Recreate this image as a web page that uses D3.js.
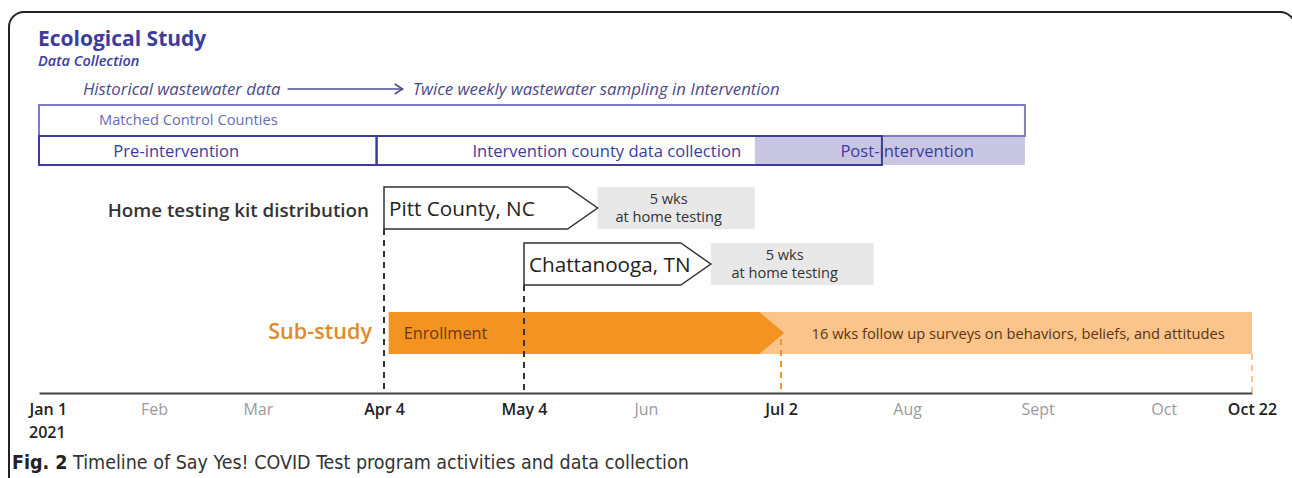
<!DOCTYPE html>
<html lang="en">
  <head>
    <meta charset="UTF-8" />
    <title>Timeline</title>
    <script src="https://d3js.org/d3.v7.min.js"></script>
    <style>
      body { margin: 0; background: #fff; }
      svg text { font-family: "Open Sans", "Noto Sans", sans-serif; }
      .caption { font-family: "Liberation Sans Narrow", "DejaVu Sans Condensed", "Open Sans", sans-serif; }
    </style>
  </head>
  <body>
    <script>
      // axis ticks
      var tickDates = ["2021-01-01", "2021-02-01", "2021-03-01", "2021-04-04", "2021-05-04", "2021-06-01",
        "2021-07-02", "2021-08-01", "2021-09-01", "2021-10-01", "2021-10-22"];
      var tickLabels = ["Jan 1", "Feb", "Mar", "Apr 4", "May 4", "Jun", "Jul 2", "Aug", "Sept", "Oct", "Oct 22"];
      var keyLabels = ["Jan 1", "Apr 4", "May 4", "Jul 2", "Oct 22"];

      // ecological study rows
      var controlBox = { label: "Matched Control Counties", start: "2021-01-01", end: "2021-08-29" };
      var phaseLabels = ["Pre-intervention", "Intervention county data collection"];
      var phaseStart = ["2021-01-01", "2021-04-02"];
      var phaseEnd = ["2021-04-02", "2021-07-26"];
      var phaseLabelAt = ["2021-02-07", "2021-05-23"];
      var postPhase = { label: "Post-intervention", start: "2021-06-26", end: "2021-08-29", labelAt: "2021-08-01" };
      var wastewater = { before: "Historical wastewater data", after: "Twice weekly wastewater sampling in Intervention",
        from: "2021-03-09", to: "2021-04-08" };

      // home testing kits
      var kitSites = ["Pitt County, NC", "Chattanooga, TN"];
      var kitStart = ["2021-04-04", "2021-05-04"];
      var kitEnd = ["2021-05-14", "2021-06-09"];
      var kitTestEnd = ["2021-06-26", "2021-07-24"];
      var kitNote = ["5 wks", "at home testing"];

      // sub-study
      var enrollment = { label: "Enrollment", start: "2021-04-05", end: "2021-06-27" };
      var followUp = { label: "16 wks follow up surveys on behaviors, beliefs, and attitudes", end: "2021-10-22" };

      // dashed markers
      var markerDates = ["2021-04-04", "2021-05-04", "2021-07-02", "2021-10-22"];

      var parse = d3.timeParse("%Y-%m-%d");
      var W = 1292, H = 478;

      var svg = d3.select("body").append("svg").attr("width", W).attr("height", H);

      // hand drawn timeline: piecewise time scale through the key dates
      var x = d3.scaleTime()
        .domain(["2021-01-01", "2021-04-04", "2021-05-04", "2021-07-02", "2021-10-22"].map(parse))
        .range([39, 384, 524, 781, 1252]);
      var X = function (s) { return x(parse(s)); };

      var purple = "#3c3ca0";

      // frame
      svg.append("rect")
        .attr("x", 9).attr("y", 12).attr("width", 1286).attr("height", 520)
        .attr("rx", 15).attr("fill", "none").attr("stroke", "#222").attr("stroke-width", 2);

      // titles
      svg.append("text").attr("x", 38).attr("y", 46)
        .attr("fill", purple).attr("font-size", 21).attr("font-weight", 700)
        .text("Ecological Study");
      svg.append("text").attr("x", 38).attr("y", 66)
        .attr("fill", purple).attr("font-size", 14.5).attr("font-weight", 600).attr("font-style", "italic")
        .text("Data Collection");

      // wastewater arrow
      var ww = svg.append("g").attr("fill", "#4b4b8c").attr("font-size", 16.8).attr("font-style", "italic");
      ww.append("text").attr("x", X(wastewater.from) - 7).attr("y", 95).attr("text-anchor", "end").text(wastewater.before);
      ww.append("text").attr("x", X(wastewater.to) + 10).attr("y", 95).text(wastewater.after);
      ww.append("line").attr("x1", X(wastewater.from)).attr("x2", X(wastewater.to))
        .attr("y1", 89).attr("y2", 89).attr("stroke", "#4b4b8c").attr("stroke-width", 1.5);
      ww.append("path")
        .attr("d", d3.line()([[X(wastewater.to) - 8, 84], [X(wastewater.to), 89], [X(wastewater.to) - 8, 94]]))
        .attr("fill", "none").attr("stroke", "#4b4b8c").attr("stroke-width", 1.5);

      // matched control box
      svg.append("rect")
        .attr("x", X(controlBox.start)).attr("y", 105)
        .attr("width", X(controlBox.end) - X(controlBox.start)).attr("height", 31)
        .attr("fill", "#fff").attr("stroke", "#7b7bc6").attr("stroke-width", 2);
      svg.append("text").attr("x", X(controlBox.start) + 60).attr("y", 125)
        .attr("fill", "#6a6ab9").attr("font-size", 14.7).text(controlBox.label);

      // post intervention fill
      svg.append("rect")
        .attr("x", X(postPhase.start)).attr("y", 137)
        .attr("width", X(postPhase.end) - X(postPhase.start)).attr("height", 28)
        .attr("fill", "#c8c6e3");

      // phases
      svg.selectAll("rect.phase").data(phaseLabels).enter().append("rect")
        .attr("class", "phase")
        .attr("x", function (d, i) { return X(phaseStart[i]); })
        .attr("y", 136)
        .attr("width", function (d, i) { return X(phaseEnd[i]) - X(phaseStart[i]); })
        .attr("height", 29)
        .attr("fill", "none").attr("stroke", purple).attr("stroke-width", 2);
      svg.selectAll("text.phase").data(phaseLabels.concat([postPhase.label])).enter().append("text")
        .attr("class", "phase")
        .attr("x", function (d, i) { return X(i < 2 ? phaseLabelAt[i] : postPhase.labelAt); })
        .attr("y", 157).attr("text-anchor", "middle")
        .attr("fill", purple).attr("font-size", 16.6)
        .text(function (d) { return d; });

      // home testing kit distribution
      var rowY = [187, 243], rowH = 42, tip = 30;
      svg.append("text").attr("x", 369).attr("y", 217).attr("text-anchor", "end")
        .attr("fill", "#333").attr("font-size", 18.8).attr("font-weight", 600)
        .text("Home testing kit distribution");

      var kits = svg.selectAll("g.kit").data(kitSites).enter().append("g").attr("class", "kit");
      kits.append("rect")
        .attr("x", function (d, i) { return X(kitEnd[i]) + tip; })
        .attr("y", function (d, i) { return rowY[i]; })
        .attr("width", function (d, i) { return X(kitTestEnd[i]) - X(kitEnd[i]) - tip; })
        .attr("height", rowH).attr("fill", "#e8e8e8");
      kits.append("path")
        .attr("d", function (d, i) {
          var x0 = X(kitStart[i]), x1 = X(kitEnd[i]), y0 = rowY[i], y1 = rowY[i] + rowH;
          return d3.line()([[x0, y0], [x1, y0], [x1 + tip, (y0 + y1) / 2], [x1, y1], [x0, y1]]) + "Z";
        })
        .attr("fill", "#fff").attr("stroke", "#333").attr("stroke-width", 1.5);
      kits.append("text")
        .attr("x", function (d, i) { return X(kitStart[i]) + 5; })
        .attr("y", function (d, i) { return rowY[i] + 29; })
        .attr("fill", "#222").attr("font-size", 20.7)
        .text(function (d) { return d; });
      kitNote.forEach(function (note, k) {
        kits.append("text")
          .attr("x", function (d, i) { return (X(kitEnd[i]) + tip - 15 + X(kitTestEnd[i])) / 2; })
          .attr("y", function (d, i) { return rowY[i] + 17 + k * 18; })
          .attr("text-anchor", "middle").attr("fill", "#333").attr("font-size", 14.6)
          .text(note);
      });

      // sub-study
      var subY = 312, subH = 42, subTip = 25;
      svg.append("text").attr("x", 372).attr("y", 339).attr("text-anchor", "end")
        .attr("fill", "#e08a2e").attr("font-size", 21.6).attr("font-weight", 600)
        .text("Sub-study");
      svg.append("rect")
        .attr("x", X(enrollment.end)).attr("y", subY)
        .attr("width", X(followUp.end) - X(enrollment.end)).attr("height", subH)
        .attr("fill", "#fac48b");
      svg.append("path")
        .attr("d", function () {
          var x0 = X(enrollment.start), x1 = X(enrollment.end);
          return d3.line()([[x0, subY], [x1, subY], [x1 + subTip, subY + subH / 2], [x1, subY + subH], [x0, subY + subH]]) + "Z";
        })
        .attr("fill", "#f39322");
      svg.append("text").attr("x", X(enrollment.start) + 15).attr("y", 339)
        .attr("fill", "#6b3812").attr("font-size", 16.3).text(enrollment.label);
      svg.append("text").attr("x", (X(enrollment.end) + subTip + X(followUp.end)) / 2).attr("y", 339)
        .attr("text-anchor", "middle").attr("fill", "#5e3310").attr("font-size", 14.7).text(followUp.label);

      // dashed markers
      var markerTop = [rowY[0] + rowH, rowY[1] + rowH, subY + subH / 2 + 6, subY + subH];
      var markerColor = ["#333", "#333", "#f39322", "#fac48b"];
      svg.selectAll("line.marker").data(markerDates).enter().append("line")
        .attr("class", "marker")
        .attr("x1", function (d) { return X(d); }).attr("x2", function (d) { return X(d); })
        .attr("y1", function (d, i) { return markerTop[i]; }).attr("y2", 392)
        .attr("stroke", function (d, i) { return markerColor[i]; })
        .attr("stroke-width", 2).attr("stroke-dasharray", "6,5");

      // axis
      var axis = d3.axisBottom(x)
        .tickValues(tickDates.map(parse))
        .tickFormat(function (d, i) { return tickLabels[i]; })
        .tickSize(0).tickPadding(11);
      var gAxis = svg.append("g").attr("transform", "translate(0,393)").call(axis);
      gAxis.select(".domain").attr("stroke", "#444").attr("stroke-width", 2);
      gAxis.selectAll(".tick text")
        .attr("font-family", "Open Sans, sans-serif")
        .attr("font-size", 16)
        .attr("fill", function (d, i) { return keyLabels.indexOf(tickLabels[i]) >= 0 ? "#222" : "#9a9a9a"; })
        .attr("font-weight", function (d, i) { return keyLabels.indexOf(tickLabels[i]) >= 0 ? 600 : 400; })
        .attr("text-anchor", function (d, i) { return i === 0 ? "start" : "middle"; })
        .attr("dx", function (d, i) { return i === 0 ? -10 : 0; });
      svg.append("text").attr("x", 29).attr("y", 438)
        .attr("fill", "#222").attr("font-size", 16).attr("font-weight", 600).text("2021");

      // caption
      var cap = svg.append("text").attr("class", "caption").attr("x", 12).attr("y", 469)
        .attr("fill", "#333").attr("font-size", 19.5);
      cap.append("tspan").attr("font-weight", 700).attr("fill", "#222").text("Fig. 2");
      cap.append("tspan").text(" Timeline of Say Yes! COVID Test program activities and data collection");
    </script>
  </body>
</html>
